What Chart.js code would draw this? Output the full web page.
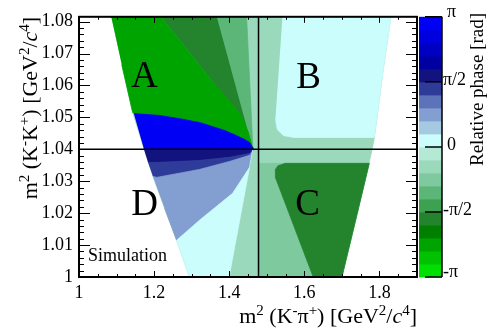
<!DOCTYPE html>
<html lang="es">
<head>
<meta charset="utf-8">
<title>Fase relativa</title>
<script src="https://cdn.jsdelivr.net/npm/chart.js@4.4.1/dist/chart.umd.min.js"></script>
<style>
  html, body { margin: 0; padding: 0; background: #fff; }
  canvas { display: block; }
</style>
</head>
<body>
<canvas id="phaseChart" width="491" height="332" style="width:491px;height:332px"></canvas>
<script>
// Ejes
const xTicks = [1, 1.2, 1.4, 1.6, 1.8];
const yTicks = [1, 1.01, 1.02, 1.03, 1.04, 1.05, 1.06, 1.07, 1.08];
const phaseTicks = [-Math.PI, -Math.PI / 2, 0, Math.PI / 2, Math.PI];
const phaseTickLabels = ["-π", "-π/2", "0", "π/2", "π"];

// Paleta de fase: 20 bandas de -π (abajo) a π (arriba)
const phaseColors = [
  "#00e000", "#00c200", "#00a400", "#007f00", "#23842d",
  "#3ea152", "#5bb678", "#7ec99d", "#9ad9bb", "#b4e9d6",
  "#cbfdfd", "#a6c9e2", "#839ed0", "#5c72b9", "#2e3b98",
  "#12137f", "#0000a2", "#0000c2", "#0000de", "#0000f4"
];

// Líneas de referencia
const refX = 1.478;
const refY = 1.04;

// Regiones del Dalitz plot: vértices [m²(K⁻π⁺), m²(K⁻K⁺)]
const dalitzRegion = [
  [1.085, 1.082], [1.831, 1.082], [1.807, 1.0624], [1.786, 1.0434], [1.780, 1.0396],
  [1.741, 1.02], [1.698, 0.999], [1.297, 0.999], [1.260, 1.0115], [1.228, 1.0215],
  [1.194, 1.0325], [1.173, 1.0403], [1.143, 1.0515], [1.114, 1.0665]
];
const rightBand = [
  [1.478, 1.0356], [1.772, 1.0356], [1.741, 1.02], [1.698, 0.999], [1.478, 0.999]
];
const regionC = [
  [1.547, 1.0356], [1.773, 1.0356], [1.698, 0.999], [1.627, 0.999],
  [1.523, 1.0312], [1.523, 1.0337], [1.531, 1.035]
];
const regionB = [
  [1.542, 1.082], [1.831, 1.082], [1.807, 1.0624], [1.786, 1.0437],
  [1.573, 1.0437], [1.544, 1.0443], [1.528, 1.0462], [1.523, 1.0496]
];
const wedgeDark = [
  [1.215, 1.082], [1.366, 1.082], [1.463, 1.040], [1.451, 1.0453], [1.427, 1.0515], [1.353, 1.0615]
];
const wedgeMid = [
  [1.366, 1.082], [1.446, 1.082], [1.463, 1.040]
];
const regionA = [
  [1.085, 1.082], [1.215, 1.082], [1.353, 1.0615], [1.427, 1.0515], [1.451, 1.0453],
  [1.463, 1.040], [1.143, 1.0515], [1.114, 1.0665]
];
const blueUpper = [
  [1.146, 1.0512], [1.215, 1.0506], [1.268, 1.0496], [1.321, 1.0484], [1.356, 1.0471],
  [1.388, 1.0459], [1.419, 1.0443], [1.441, 1.0431], [1.454, 1.0421], [1.462, 1.0406],
  [1.463, 1.040], [1.173, 1.040]
];
const navyBand = [
  [1.173, 1.040], [1.463, 1.040], [1.454, 1.0387], [1.401, 1.0375],
  [1.321, 1.0365], [1.207, 1.0359], [1.184, 1.0359]
];
const navyMid = [
  [1.184, 1.0359], [1.207, 1.0359], [1.321, 1.0365], [1.401, 1.0375], [1.454, 1.0387],
  [1.463, 1.040], [1.462, 1.0393], [1.454, 1.0381], [1.401, 1.0362], [1.321, 1.0337],
  [1.207, 1.0312], [1.197, 1.0315]
];
const lightBlue = [
  [1.197, 1.0315], [1.207, 1.0312], [1.321, 1.0337], [1.401, 1.0362], [1.454, 1.0381],
  [1.462, 1.0393], [1.463, 1.040], [1.454, 1.0343], [1.409, 1.0262], [1.321, 1.0178],
  [1.260, 1.0115], [1.228, 1.0215]
];
const cyanLow = [
  [1.463, 1.040], [1.398, 0.999], [1.297, 0.999], [1.260, 1.0115],
  [1.321, 1.0178], [1.409, 1.0262], [1.454, 1.0343]
];

// Fase (rad) de cada región, en orden de dibujo
const regions = [dalitzRegion, rightBand, regionC, regionB, wedgeDark, wedgeMid,
                 regionA, blueUpper, navyBand, navyMid, lightBlue, cyanLow];
const regionPhases = [-0.45, -0.8, -1.75, 0.15, -1.75, -1.1,
                      -2.35, 3.0, 1.7, 1.4, 0.8, 0.15];

// Etiquetas de las regiones
const regionLabels = ["A", "B", "C", "D"];
const regionLabelX = [1.174, 1.611, 1.609, 1.175];
const regionLabelY = [1.0596, 1.0593, 1.0194, 1.0194];

const SERIF = '"Liberation Serif", "Times New Roman", serif';

function phaseColor(p) {
  const i = Math.floor((p + Math.PI) / (2 * Math.PI) * phaseColors.length);
  return phaseColors[Math.max(0, Math.min(phaseColors.length - 1, i))];
}

// Texto con superíndices y cursiva
function drawRich(ctx, parts, size, x, y) {
  const fontFor = s => (s === "it" ? "italic " : "") +
    (s === "sup" ? Math.round(size * 0.68) : size) + "px " + SERIF;
  let w = 0;
  parts.forEach(([t, s]) => { ctx.font = fontFor(s); w += ctx.measureText(t).width; });
  let cx = x - w;
  parts.forEach(([t, s]) => {
    ctx.font = fontFor(s);
    ctx.fillText(t, cx, y + (s === "sup" ? -0.36 * size : 0));
    cx += ctx.measureText(t).width;
  });
}

const xTitle = [["m", "n"], ["2", "sup"], [" (K", "n"], ["-", "sup"], ["π", "n"], ["+", "sup"],
  [") [GeV", "n"], ["2", "sup"], ["/", "n"], ["c", "it"], ["4", "sup"], ["]", "n"]];
const yTitle = [["m", "n"], ["2", "sup"], [" (K", "n"], ["-", "sup"], ["K", "n"], ["+", "sup"],
  [") [GeV", "n"], ["2", "sup"], ["/", "n"], ["c", "it"], ["4", "sup"], ["]", "n"]];

// Marco, ticks, barra de color y textos
const framePlugin = {
  id: "frame",
  afterDatasetsDraw(chart) {
    const { ctx, chartArea: a, scales: { x, y } } = chart;
    ctx.save();
    ctx.strokeStyle = "#000";
    ctx.lineWidth = 1;
    ctx.beginPath();
    for (let i = 0; i <= 18; i++) {
      const px = Math.round(x.getPixelForValue(1 + i * 0.05)) + 0.5;
      const len = i % 4 === 0 ? 6 : 3;
      ctx.moveTo(px, a.bottom); ctx.lineTo(px, a.bottom - len);
      ctx.moveTo(px, a.top); ctx.lineTo(px, a.top + len);
    }
    for (let i = 0; i <= 40; i++) {
      const v = 1 + i * 0.002;
      if (v > y.max) break;
      const py = Math.round(y.getPixelForValue(v)) + 0.5;
      const len = i % 5 === 0 ? 11 : 5;
      ctx.moveTo(a.left, py); ctx.lineTo(a.left + len, py);
      ctx.moveTo(a.right, py); ctx.lineTo(a.right - len, py);
    }
    ctx.stroke();
    ctx.lineWidth = 2;
    ctx.strokeRect(a.left, a.top, a.right - a.left, a.bottom - a.top);

    // Barra de color
    const cbL = a.right + 2, cbR = a.right + 25;
    const h = (a.bottom - a.top) / phaseColors.length;
    phaseColors.forEach((c, i) => {
      ctx.fillStyle = c;
      ctx.fillRect(cbL, a.bottom - (i + 1) * h, cbR - cbL, h + 0.5);
    });
    ctx.lineWidth = 1.5;
    ctx.beginPath();
    ctx.moveTo(cbR, a.top); ctx.lineTo(cbR, a.bottom);
    const phasePx = p => a.bottom - (p + Math.PI) / (2 * Math.PI) * (a.bottom - a.top);
    phaseTicks.forEach(p => {
      const py = phasePx(p);
      ctx.moveTo(cbR, py); ctx.lineTo(cbR - 17, py);
    });
    ctx.stroke();

    ctx.fillStyle = "#000";
    ctx.font = "18px " + SERIF;
    ctx.textAlign = "left";
    ctx.textBaseline = "alphabetic";
    phaseTicks.forEach((p, i) => {
      const t = phaseTickLabels[i];
      const isPi = t === "π" || t === "-π";
      ctx.fillText(t, t.length === 1 ? cbR + 5 : cbR + 1, phasePx(p) + (isPi ? 0 : 3.5));
    });

    // Etiquetas A-D y "Simulation"
    ctx.font = "37px " + SERIF;
    ctx.textAlign = "center";
    regionLabels.forEach((t, i) => {
      ctx.fillText(t, x.getPixelForValue(regionLabelX[i]), y.getPixelForValue(regionLabelY[i]));
    });
    ctx.font = "18px " + SERIF;
    ctx.textAlign = "left";
    ctx.fillText("Simulation", x.getPixelForValue(1.024), y.getPixelForValue(1.005));

    // Títulos de ejes
    drawRich(ctx, xTitle, 22, a.right, 323);
    ctx.save();
    ctx.translate(37, a.top);
    ctx.rotate(-Math.PI / 2);
    drawRich(ctx, yTitle, 22, 0, 0);
    ctx.restore();

    ctx.save();
    ctx.translate(483, 13);
    ctx.rotate(-Math.PI / 2);
    ctx.font = "19px " + SERIF;
    ctx.textAlign = "right";
    ctx.fillText("Relative phase [rad]", 0, 0);
    ctx.restore();

    ctx.restore();
  }
};

const datasets = regions.map((pts, i) => {
  const color = phaseColor(regionPhases[i]);
  return {
    data: pts.map(([vx, vy]) => ({ x: vx, y: vy })),
    backgroundColor: color,
    borderColor: color,
    borderWidth: 0.8,
    fill: "shape",
    pointRadius: 0,
    tension: 0,
    order: regions.length + 2 - i
  };
});
datasets.push(
  { data: [{ x: refX, y: 0.99 }, { x: refX, y: 1.09 }], borderColor: "#000", borderWidth: 1.5, pointRadius: 0, fill: false, order: 1 },
  { data: [{ x: 0.99, y: refY }, { x: 1.91, y: refY }], borderColor: "#000", borderWidth: 1.5, pointRadius: 0, fill: false, order: 0 }
);

const tickFont = { family: SERIF, size: 18 };

new Chart(document.getElementById("phaseChart"), {
  type: "line",
  data: { datasets },
  options: {
    responsive: false,
    animation: false,
    devicePixelRatio: 1,
    layout: { padding: { top: 16, right: 74, left: 0, bottom: 0 } },
    plugins: { legend: { display: false }, tooltip: { enabled: false } },
    scales: {
      x: {
        type: "linear",
        min: 1,
        max: 1.9,
        afterBuildTicks: s => { s.ticks = xTicks.map(v => ({ value: v })); },
        afterFit: s => { s.height = 55; },
        grid: { display: false, drawTicks: false },
        border: { display: false },
        ticks: { font: tickFont, color: "#000", padding: 5, maxRotation: 0, autoSkip: false, callback: v => String(v) }
      },
      y: {
        type: "linear",
        min: 1,
        max: 1.0815,
        afterBuildTicks: s => { s.ticks = yTicks.map(v => ({ value: v })); },
        afterFit: s => { s.width = 79; },
        grid: { display: false, drawTicks: false },
        border: { display: false },
        ticks: { font: tickFont, color: "#000", padding: 6, autoSkip: false, callback: v => String(v) }
      }
    }
  },
  plugins: [framePlugin]
});
</script>
</body>
</html>
